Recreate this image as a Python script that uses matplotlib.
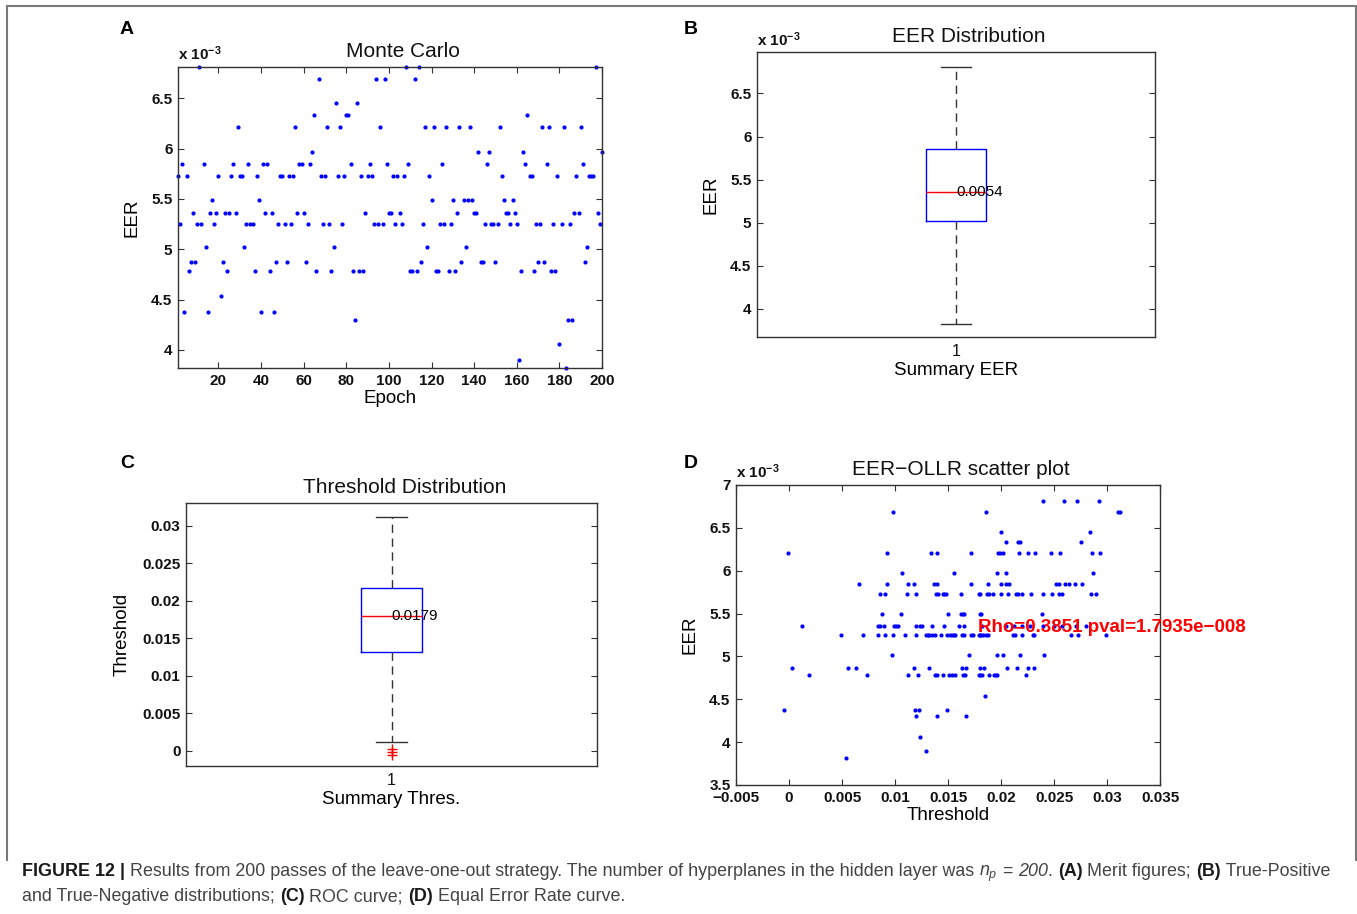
import numpy as np
import matplotlib
matplotlib.use('Agg')
import matplotlib.pyplot as plt
from matplotlib.lines import Line2D

plt.rcParams['font.family'] = ['Liberation Sans', 'DejaVu Sans']
plt.rcParams['mathtext.fontset'] = 'custom'
plt.rcParams['mathtext.rm'] = 'Liberation Sans'
plt.rcParams['mathtext.it'] = 'Liberation Sans:italic'
plt.rcParams['mathtext.bf'] = 'Liberation Sans:bold'

# EER per Monte Carlo epoch (x 10^-3), epochs 1..200
eer_first = [5.73, 5.25, 5.85, 4.38, 5.73, 4.78, 4.87, 5.36, 4.87, 5.25,
             6.81, 5.25, 5.85, 5.02, 4.38, 5.36, 5.49, 5.25, 5.36, 5.73,
             4.54, 4.87, 5.36, 4.78, 5.36, 5.73, 5.85, 5.36, 6.21, 5.73,
             5.73, 5.02, 5.25, 5.85, 5.25, 5.25, 4.78, 5.73, 5.49, 4.38,
             5.85, 5.36, 5.85, 4.78, 5.36, 4.38, 4.87, 5.25, 5.73, 5.73,
             5.25, 4.87, 5.73, 5.25, 5.73, 6.21, 5.36, 5.85, 5.85, 5.36,
             4.87, 5.25, 5.85, 5.97, 6.33, 4.78, 6.69, 5.73, 5.25, 5.73,
             6.21, 5.25, 4.78, 5.02, 6.45, 5.73, 6.21, 5.25, 5.73, 6.33,
             6.33, 5.85, 4.78, 4.30, 6.45, 4.78, 5.73, 4.78, 5.36, 5.73,
             5.85, 5.73, 5.25, 6.69, 5.25, 6.21, 5.25, 6.69, 5.85, 5.36]
eer_second = [5.36, 5.73, 5.25, 5.73, 5.36, 5.25, 5.73, 6.81, 5.85, 4.78,
              4.78, 6.69, 4.78, 6.81, 4.87, 5.25, 6.21, 5.02, 5.73, 5.49,
              6.21, 4.78, 4.78, 5.25, 5.85, 5.25, 6.21, 4.78, 5.25, 5.49,
              4.78, 5.36, 6.21, 4.87, 5.49, 5.02, 5.49, 6.21, 5.49, 5.36,
              5.36, 5.97, 4.87, 4.87, 5.25, 5.85, 5.97, 5.25, 5.25, 4.87,
              5.25, 6.21, 5.73, 5.49, 5.36, 5.36, 5.25, 5.49, 5.36, 5.25,
              3.90, 4.78, 5.97, 5.85, 6.33, 5.73, 5.73, 4.78, 5.25, 4.87,
              5.25, 6.21, 4.87, 5.85, 6.21, 4.78, 5.25, 4.78, 5.73, 4.06,
              5.25, 6.21, 3.82, 4.30, 5.25, 4.30, 5.36, 5.73, 5.36, 6.21,
              5.85, 4.87, 5.02, 5.73, 5.73, 5.73, 6.81, 5.36, 5.25, 5.97]

# EER-OLLR scatter: thresholds grouped by EER level (x 10^-3)
d_levels = [6.81, 6.69, 6.45, 6.33, 6.21, 5.97, 5.85, 5.73, 5.49, 5.36,
            5.25, 5.02, 4.87, 4.78, 4.54, 4.38, 4.30, 4.06, 3.90, 3.82]
d_thresholds = [
    [0.0240, 0.0259, 0.0272, 0.0292],
    [0.0098, 0.0186, 0.0310, 0.0312],
    [0.0200, 0.0284],
    [0.0205, 0.0216, 0.0218, 0.0275],
    [-0.0001, 0.0092, 0.0134, 0.0140, 0.0172, 0.0197, 0.0199, 0.0202,
     0.0217, 0.0225, 0.0232, 0.0247, 0.0256, 0.0286, 0.0293],
    [0.0107, 0.0156, 0.0196, 0.0205, 0.0287],
    [0.0066, 0.0092, 0.0112, 0.0118, 0.0137, 0.0140, 0.0172, 0.0188, 0.0200,
     0.0205, 0.0208, 0.0252, 0.0255, 0.0260, 0.0264, 0.0270, 0.0276],
    [0.0086, 0.0091, 0.0111, 0.0120, 0.0139, 0.0141, 0.0145, 0.0146, 0.0148,
     0.0162, 0.0179, 0.0180, 0.0187, 0.0189, 0.0192, 0.0200, 0.0207, 0.0214,
     0.0216, 0.0220, 0.0228, 0.0240, 0.0248, 0.0255, 0.0258, 0.0285, 0.0290],
    [0.0088, 0.0106, 0.0150, 0.0162, 0.0164, 0.0165, 0.0180, 0.0181, 0.0239],
    [0.0012, 0.0084, 0.0086, 0.0090, 0.0099, 0.0101, 0.0103, 0.0120, 0.0124,
     0.0125, 0.0135, 0.0146, 0.0160, 0.0165, 0.0182, 0.0205, 0.0212, 0.0220,
     0.0227, 0.0240, 0.0250, 0.0258, 0.0271, 0.0280],
    [0.0049, 0.0070, 0.0084, 0.0091, 0.0098, 0.0109, 0.0120, 0.0129, 0.0131,
     0.0132, 0.0135, 0.0138, 0.0143, 0.0149, 0.0152, 0.0154, 0.0156, 0.0157,
     0.0163, 0.0165, 0.0172, 0.0174, 0.0179, 0.0180, 0.0181, 0.0183, 0.0186,
     0.0188, 0.0211, 0.0213, 0.0220, 0.0230, 0.0231, 0.0266, 0.0273, 0.0299],
    [0.0097, 0.0170, 0.0196, 0.0202, 0.0218, 0.0241],
    [0.0003, 0.0056, 0.0063, 0.0118, 0.0132, 0.0163, 0.0167, 0.0180, 0.0184,
     0.0206, 0.0215, 0.0225, 0.0231],
    [0.0019, 0.0074, 0.0112, 0.0122, 0.0138, 0.0140, 0.0145, 0.0151, 0.0154,
     0.0157, 0.0164, 0.0166, 0.0179, 0.0180, 0.0182, 0.0189, 0.0193, 0.0195,
     0.0196, 0.0224],
    [0.0185],
    [-0.0005, 0.0119, 0.0123, 0.0149],
    [0.0120, 0.0140, 0.0167],
    [0.0124],
    [0.0129],
    [0.0054],
]

a_xticks = [20, 40, 60, 80, 100, 120, 140, 160, 180, 200]
eer_yticks = [4, 4.5, 5, 5.5, 6, 6.5]
eer_ylabels = ['4', '4.5', '5', '5.5', '6', '6.5']
c_yticks = [0, 0.005, 0.01, 0.015, 0.02, 0.025, 0.03]
c_ylabels = ['0', '0.005', '0.01', '0.015', '0.02', '0.025', '0.03']
d_xticks = [-0.005, 0, 0.005, 0.01, 0.015, 0.02, 0.025, 0.03, 0.035]
d_xlabels = ['\u22120.005', '0', '0.005', '0.01', '0.015', '0.02', '0.025', '0.03', '0.035']
d_yticks = [3.5, 4, 4.5, 5, 5.5, 6, 6.5, 7]
d_ylabels = ['3.5', '4', '4.5', '5', '5.5', '6', '6.5', '7']
rho_text = 'Rho=0.3851 pval=1.7935e\u2212008'

eer = np.array(eer_first + eer_second)
epoch = np.arange(1, len(eer) + 1)
d_thr = np.concatenate([np.array(t) for t in d_thresholds])
d_eer = np.concatenate([np.full(len(t), lv) for lv, t in zip(d_levels, d_thresholds)])

W, H = 1357, 914
fig = plt.figure(figsize=(W / 100, H / 100), dpi=100)


def px_axes(left, top, right, bottom):
    return fig.add_axes([left / W, 1 - bottom / H, (right - left) / W, (bottom - top) / H])


def style_axes(ax):
    for s in ax.spines.values():
        s.set_color('#333333')
        s.set_linewidth(1.0)
    ax.tick_params(direction='in', length=4, width=0.8, color='#333333',
                   labelsize=11, pad=4, labelcolor='#111111')


def offset_label(ax):
    ax.text(0.0, 1.012, r'x 10$^{\mathbf{-3}}$',
            transform=ax.transAxes, fontsize=11, fontweight='bold',
            ha='left', va='bottom', color='#111111')


def title(ax, s, width_px):
    ax.set_title(s, fontsize=15, x=0.5 + 13 / width_px, pad=7, color='#111111')


box_kw = dict(positions=[1], widths=0.15, capwidths=0.075, whis=1.5,
              boxprops=dict(color='blue', linewidth=1.0),
              medianprops=dict(color='red', linewidth=1.0),
              whiskerprops=dict(color='#333333', linewidth=1.0, linestyle=(0, (6, 4))),
              capprops=dict(color='#333333', linewidth=1.0),
              flierprops=dict(marker='+', markeredgecolor='red', markersize=7,
                              markeredgewidth=1.0, linestyle='none'))

# ---- Panel A: Monte Carlo
ax = px_axes(178, 67, 602, 368)
style_axes(ax)
ax.plot(epoch, eer, 'o', color='blue', ms=3, mew=0, clip_on=False)
ax.set_xlim(1, 200)
ax.set_ylim(eer.min(), eer.max())
ax.set_xticks(a_xticks)
ax.set_xticklabels([str(v) for v in a_xticks], fontweight='bold')
ax.set_yticks(eer_yticks)
ax.set_yticklabels(eer_ylabels, fontweight='bold')
ax.tick_params(top=True, right=True)
ax.set_xlabel('Epoch', fontsize=13.5, labelpad=2)
ax.set_ylabel('EER', fontsize=13.5, labelpad=8)
title(ax, 'Monte Carlo', 424)
offset_label(ax)

# ---- Panel B: EER Distribution
ax = px_axes(757, 52, 1155, 337)
style_axes(ax)
ax.boxplot(eer, **box_kw)
ax.set_xlim(0.5, 1.5)
ax.set_ylim(3.675, 6.98)
ax.set_yticks(eer_yticks)
ax.set_yticklabels(eer_ylabels, fontweight='bold')
ax.set_xticks([1])
ax.set_xticklabels(['1'], fontsize=11.5)
ax.tick_params(axis='x', length=0, pad=5)
ax.tick_params(axis='y', right=True)
ax.set_xlabel('Summary EER', fontsize=13.5, labelpad=2)
ax.set_ylabel('EER', fontsize=13.5, labelpad=8)
med_b = np.median(eer)
ax.text(1, med_b, f'{med_b / 1000:.4f}', fontsize=11, ha='left', va='center')
title(ax, 'EER Distribution', 398)
offset_label(ax)

# ---- Panel C: Threshold Distribution
ax = px_axes(186, 503, 597, 766)
style_axes(ax)
ax.boxplot(d_thr, **box_kw)
ax.set_xlim(0.5, 1.5)
ax.set_ylim(-0.002, 0.033)
ax.set_yticks(c_yticks)
ax.set_yticklabels(c_ylabels, fontweight='bold')
ax.set_xticks([1])
ax.set_xticklabels(['1'], fontsize=11.5)
ax.tick_params(axis='x', length=0, pad=5)
ax.tick_params(axis='y', right=True)
ax.set_xlabel('Summary Thres.', fontsize=13.5, labelpad=2)
ax.set_ylabel('Threshold', fontsize=13.5, labelpad=8)
med_c = np.median(d_thr)
ax.text(1, med_c, f'{med_c:.4f}', fontsize=11, ha='left', va='center')
title(ax, 'Threshold Distribution', 411)

# ---- Panel D: EER-OLLR scatter plot
ax = px_axes(736, 485, 1160, 785)
style_axes(ax)
ax.plot(d_thr, d_eer, 'o', color='blue', ms=3, mew=0, clip_on=False)
ax.set_xlim(-0.005, 0.035)
ax.set_ylim(3.5, 7)
ax.set_xticks(d_xticks)
ax.set_xticklabels(d_xlabels, fontweight='bold')
ax.set_yticks(d_yticks)
ax.set_yticklabels(d_ylabels, fontweight='bold')
ax.tick_params(top=True, right=True)
ax.set_xlabel('Threshold', fontsize=13.5, labelpad=2)
ax.set_ylabel('EER', fontsize=13.5, labelpad=8)
title(ax, 'EER\u2212OLLR scatter plot', 424)
offset_label(ax)
ax.text(0.0178, 5.34, rho_text, color='red', fontsize=13.5, fontweight='bold',
        ha='left', va='center', clip_on=False)

# panel letters
for letter, x, y in [('A', 127, 30), ('B', 691, 30), ('C', 127, 463), ('D', 691, 463)]:
    fig.text(x / W, 1 - y / H, letter, fontsize=14, fontweight='bold',
             ha='center', va='center')

# outer frame
frame_kw = dict(color='#7a7a7a', linewidth=1.5, transform=fig.transFigure)
fig.add_artist(Line2D([7 / W, 1356 / W], [1 - 6 / H, 1 - 6 / H], **frame_kw))
fig.add_artist(Line2D([7 / W, 7 / W], [1 - 6 / H, 1 - 860 / H], **frame_kw))
fig.add_artist(Line2D([1356 / W, 1356 / W], [1 - 6 / H, 1 - 860 / H], **frame_kw))

# caption, written piece by piece
renderer = fig.canvas.get_renderer()
cap_size = 12.9


def caption_line(x, y, parts):
    for s, weight, style, color in parts:
        t = fig.text(x / W, 1 - y / H, s, fontsize=cap_size, fontweight=weight,
                     fontstyle=style, color=color, ha='left', va='baseline')
        x += t.get_window_extent(renderer).width


reg, bold = '#444444', '#1a1a1a'
caption_line(22, 876, [
    ('FIGURE 12 |', 'bold', 'normal', bold),
    (' Results from 200 passes of the leave-one-out strategy. The number of '
     'hyperplanes in the hidden layer was ', 'normal', 'normal', reg),
    (r'$n_p$', 'normal', 'normal', reg),
    (' = ', 'normal', 'normal', reg),
    ('200', 'normal', 'italic', reg),
    ('. ', 'normal', 'normal', reg),
    ('(A)', 'bold', 'normal', bold),
    (' Merit figures; ', 'normal', 'normal', reg),
    ('(B)', 'bold', 'normal', bold),
    (' True-Positive', 'normal', 'normal', reg),
])
caption_line(22, 901, [
    ('and True-Negative distributions; ', 'normal', 'normal', reg),
    ('(C)', 'bold', 'normal', bold),
    (' ROC curve; ', 'normal', 'normal', reg),
    ('(D)', 'bold', 'normal', bold),
    (' Equal Error Rate curve.', 'normal', 'normal', reg),
])

fig.savefig('out.png', dpi=100)
